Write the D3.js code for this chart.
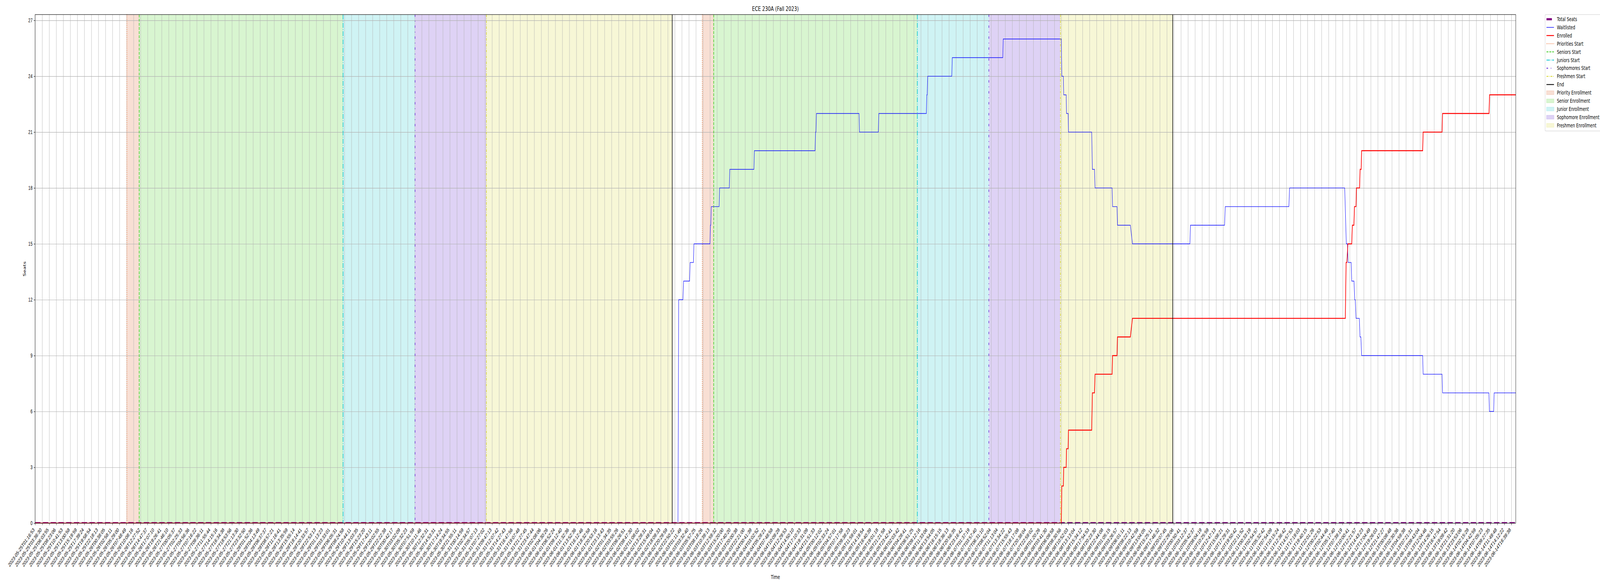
<!DOCTYPE html>
<html>
<head>
<meta charset="utf-8">
<script src="https://cdn.jsdelivr.net/npm/d3@7"></script>
<style>
    html, body {margin: 0; padding: 0; background: #fff; overflow: hidden;}
    svg {display: block; width: 100vw; height: 100vh; font-family: "DejaVu Sans", sans-serif;}
</style>
</head>
<body>
<div id="chart"></div>
<script>
// x positions are in tick units: tick i sits on tickLabels[i]
var tickLabels = [
    "2023-05-25T01:16:53", "2023-05-25T03:36:30", "2023-05-25T06:03:55", "2023-05-25T08:23:06", "2023-05-25T10:41:53",
    "2023-05-25T13:00:58", "2023-05-25T15:19:59", "2023-05-25T17:39:24", "2023-05-25T19:58:54", "2023-05-25T22:18:13",
    "2023-05-26T00:38:05", "2023-05-26T02:58:11", "2023-05-26T05:29:00", "2023-05-26T07:48:49", "2023-05-26T10:08:16",
    "2023-05-26T12:27:52", "2023-05-26T14:47:37", "2023-05-26T17:07:10", "2023-05-26T19:26:41", "2023-05-26T21:46:10",
    "2023-05-27T00:05:37", "2023-05-27T02:25:33", "2023-05-27T04:56:36", "2023-05-27T07:16:22", "2023-05-27T09:36:11",
    "2023-05-27T11:55:44", "2023-05-27T14:15:16", "2023-05-27T16:34:38", "2023-05-27T18:53:56", "2023-05-27T21:13:30",
    "2023-05-27T23:32:50", "2023-05-28T01:52:36", "2023-05-28T04:13:49", "2023-05-28T06:37:37", "2023-05-28T08:57:21",
    "2023-05-28T11:16:41", "2023-05-28T13:35:59", "2023-05-28T15:55:14", "2023-05-28T18:14:41", "2023-05-28T20:33:57",
    "2023-05-28T22:53:13", "2023-05-29T01:13:23", "2023-05-29T03:33:01", "2023-05-29T06:05:31", "2023-05-29T08:24:58",
    "2023-05-29T10:44:11", "2023-05-29T13:03:35", "2023-05-29T15:23:20", "2023-05-29T17:43:11", "2023-05-29T20:02:55",
    "2023-05-29T22:22:38", "2023-05-30T00:42:17", "2023-05-30T03:02:09", "2023-05-30T05:32:23", "2023-05-30T07:51:59",
    "2023-05-30T10:11:46", "2023-05-30T12:32:31", "2023-05-30T14:53:31", "2023-05-30T17:14:24", "2023-05-30T19:34:55",
    "2023-05-30T21:55:11", "2023-05-31T00:14:59", "2023-05-31T02:34:57", "2023-05-31T05:07:13", "2023-05-31T07:27:02",
    "2023-05-31T09:47:13", "2023-05-31T12:07:42", "2023-05-31T14:27:43", "2023-05-31T16:47:56", "2023-05-31T19:07:48",
    "2023-05-31T21:27:45", "2023-05-31T23:47:44", "2023-06-01T02:08:06", "2023-06-01T04:30:26", "2023-06-01T06:52:24",
    "2023-06-01T09:12:40", "2023-06-01T11:32:36", "2023-06-01T13:52:36", "2023-06-01T16:12:46", "2023-06-01T18:32:58",
    "2023-06-01T20:53:16", "2023-06-01T23:13:43", "2023-06-02T01:34:35", "2023-06-02T03:55:26", "2023-06-02T06:26:51",
    "2023-06-02T08:47:30", "2023-06-02T11:08:02", "2023-06-02T13:28:31", "2023-06-02T15:49:04", "2023-06-02T18:09:33",
    "2023-06-02T20:29:59", "2023-06-02T22:50:22", "2023-06-03T01:11:49", "2023-06-03T03:32:40", "2023-06-03T05:57:25",
    "2023-06-03T08:18:26", "2023-06-03T10:39:13", "2023-06-03T12:59:32", "2023-06-03T15:20:00", "2023-06-03T17:40:20",
    "2023-06-03T20:00:38", "2023-06-03T22:21:00", "2023-06-04T00:41:39", "2023-06-04T03:02:52", "2023-06-04T05:28:21",
    "2023-06-04T07:48:58", "2023-06-04T10:09:28", "2023-06-04T12:29:53", "2023-06-04T14:50:10", "2023-06-04T17:10:33",
    "2023-06-04T19:31:09", "2023-06-04T21:51:33", "2023-06-05T00:12:02", "2023-06-05T02:33:24", "2023-06-05T04:57:01",
    "2023-06-05T07:17:58", "2023-06-05T09:38:23", "2023-06-05T11:59:01", "2023-06-05T14:19:54", "2023-06-05T16:40:39",
    "2023-06-05T19:01:18", "2023-06-05T21:21:58", "2023-06-05T23:42:41", "2023-06-06T02:03:42", "2023-06-06T04:28:41",
    "2023-06-06T06:51:25", "2023-06-06T09:12:16", "2023-06-06T11:33:06", "2023-06-06T13:54:05", "2023-06-06T16:15:15",
    "2023-06-06T18:36:13", "2023-06-06T20:56:35", "2023-06-06T23:16:42", "2023-06-07T01:37:19", "2023-06-07T03:57:40",
    "2023-06-07T06:31:10", "2023-06-07T08:52:04", "2023-06-07T11:13:04", "2023-06-07T13:34:22", "2023-06-07T15:55:43",
    "2023-06-07T18:17:08", "2023-06-07T20:38:04", "2023-06-07T22:59:02", "2023-06-08T01:20:26", "2023-06-08T03:41:30",
    "2023-06-08T06:09:58", "2023-06-08T08:30:56", "2023-06-08T10:52:03", "2023-06-08T13:13:04", "2023-06-08T15:34:12",
    "2023-06-08T17:54:53", "2023-06-08T20:23:30", "2023-06-08T22:44:08", "2023-06-09T01:05:15", "2023-06-09T03:26:57",
    "2023-06-09T06:01:11", "2023-06-09T08:22:13", "2023-06-09T10:42:59", "2023-06-09T13:04:05", "2023-06-09T15:25:11",
    "2023-06-09T17:46:32", "2023-06-09T20:07:45", "2023-06-09T22:29:06", "2023-06-10T00:50:41", "2023-06-10T03:12:37",
    "2023-06-10T05:42:37", "2023-06-10T08:04:19", "2023-06-10T10:25:59", "2023-06-10T12:47:13", "2023-06-10T15:08:21",
    "2023-06-10T17:29:31", "2023-06-10T19:50:42", "2023-06-10T22:11:52", "2023-06-11T00:33:19", "2023-06-11T02:54:57",
    "2023-06-11T05:32:42", "2023-06-11T07:54:09", "2023-06-11T10:15:24", "2023-06-11T12:36:42", "2023-06-11T14:57:53",
    "2023-06-11T17:19:03", "2023-06-11T19:40:15", "2023-06-11T22:01:26", "2023-06-12T00:22:53", "2023-06-12T02:44:46",
    "2023-06-12T05:17:40", "2023-06-12T07:39:19", "2023-06-12T10:00:41", "2023-06-12T12:21:57", "2023-06-12T14:43:23",
    "2023-06-12T17:04:49", "2023-06-12T19:26:03", "2023-06-12T21:47:27", "2023-06-13T00:08:48", "2023-06-13T02:30:36",
    "2023-06-13T04:59:38", "2023-06-13T07:21:31", "2023-06-13T09:43:04", "2023-06-13T12:04:46", "2023-06-13T14:26:15",
    "2023-06-13T16:47:54", "2023-06-13T19:09:42", "2023-06-13T21:31:20", "2023-06-13T23:53:06", "2023-06-14T02:15:28",
    "2023-06-14T04:42:59", "2023-06-14T07:05:23", "2023-06-14T09:27:35", "2023-06-14T11:49:48", "2023-06-14T14:12:22",
    "2023-06-14T16:39:38"
];

var seatTicks = [0, 3, 6, 9, 12, 15, 18, 21, 24, 27];

// [position, seats]
var totalSeats = [[0, 0], [210.62, 0]];

var waitlisted = [
    [0, 0], [91.45, 0], [91.55, 12], [92.15, 12], [92.25, 13], [93.1, 13], [93.18, 14], [93.65, 14],
    [93.72, 15], [96.0, 15], [96.07, 16], [96.12, 16], [96.19, 17], [97.3, 17], [97.37, 18], [98.75, 18],
    [98.82, 19], [102.25, 19], [102.32, 20], [110.95, 20], [111.02, 21], [111.08, 21], [111.15, 22], [117.2, 22],
    [117.27, 21], [119.95, 21], [120.02, 22], [126.78, 22], [126.85, 23], [126.9, 23], [126.97, 24], [130.4, 24],
    [130.47, 25], [137.65, 25], [137.72, 26], [145.98, 26], [146.05, 24], [146.27, 24], [146.32, 23], [146.67, 23],
    [146.72, 22], [146.95, 22], [147.0, 21], [150.3, 21], [150.4, 19], [150.7, 19], [150.78, 18], [153.2, 18],
    [153.27, 17], [153.9, 17], [153.97, 16], [155.8, 16], [156.1, 15], [164.27, 15], [164.35, 16], [169.2, 16],
    [169.3, 17], [178.35, 17], [178.45, 18], [186.29, 18], [186.52, 15], [186.68, 15], [186.78, 14], [187.21, 14],
    [187.29, 13], [187.61, 13], [187.72, 12], [187.79, 12], [187.9, 11], [188.37, 11], [188.47, 10], [188.59, 10],
    [188.7, 9], [197.38, 9], [197.45, 8], [200.14, 8], [200.21, 7], [206.8, 7], [206.88, 6], [207.48, 6],
    [207.55, 7], [210.62, 7]
];

var enrolled = [
    [0, 0], [145.98, 0], [146.05, 2], [146.27, 2], [146.32, 3], [146.67, 3], [146.72, 4], [146.95, 4],
    [147.0, 5], [150.3, 5], [150.4, 7], [150.7, 7], [150.78, 8], [153.2, 8], [153.27, 9], [153.9, 9],
    [153.97, 10], [155.8, 10], [156.1, 11], [186.38, 11], [186.49, 14], [186.6, 14], [186.75, 15], [187.29, 15],
    [187.38, 16], [187.6, 16], [187.68, 17], [187.9, 17], [187.96, 18], [188.41, 18], [188.48, 19], [188.63, 19],
    [188.7, 20], [197.38, 20], [197.45, 21], [200.14, 21], [200.21, 22], [206.82, 22], [206.9, 23], [210.62, 23]
];

// phase boundaries, one entry per enrollment pass
var prioritiesStart = [13.05, 94.9];
var seniorsStart = [14.81, 96.53];
var juniorsStart = [43.81, 125.5];
var sophomoresStart = [54.05, 135.67];
var freshmenStart = [64.2, 145.85];
var endTimes = [90.63, 161.83];

(() => {
    var W = 6000, H = 1500;
    var plotL = 131.6, plotR = 5684, plotT = 37.3, plotB = 1339.3;
    var fs = 13.9;

    var xMax = d3.max(enrolled, d => d[0]);
    var x = d3.scaleLinear().domain([0, xMax]).range([plotL, plotR]);
    var y = d3.scaleLinear().domain([0, 27.31]).range([plotB, plotT]);

    // the browser caps the window width, so the 6000x1500 layout is stretched onto whatever viewport we get
    var svg = d3.select("#chart").append("svg")
        .attr("viewBox", `0 0 ${W} ${H}`)
        .attr("preserveAspectRatio", "none");

    svg.append("defs").append("clipPath").attr("id", "plotClip")
        .append("rect")
        .attr("x", plotL).attr("y", plotT)
        .attr("width", plotR - plotL).attr("height", plotB - plotT);

    var plot = svg.append("g").attr("clip-path", "url(#plotClip)");

    // enrollment windows
    var phases = [
        {name: "Priority Enrollment", from: prioritiesStart, to: seniorsStart, fill: "#f8dfd4", edge: "#f2c9b6"},
        {name: "Senior Enrollment", from: seniorsStart, to: juniorsStart, fill: "#d8f5d0", edge: "#c2ecb6"},
        {name: "Junior Enrollment", from: juniorsStart, to: sophomoresStart, fill: "#cff3f4", edge: "#b3ebee"},
        {name: "Sophomore Enrollment", from: sophomoresStart, to: freshmenStart, fill: "#ded2f5", edge: "#cbb9ef"},
        {name: "Freshmen Enrollment", from: freshmenStart, to: endTimes, fill: "#f7f7d6", edge: "#efefb8"}
    ];

    phases.forEach(p => {
        p.from.forEach((s, i) => {
            plot.append("rect")
                .attr("x", x(s))
                .attr("y", plotT)
                .attr("width", x(p.to[i]) - x(s))
                .attr("height", plotB - plotT)
                .attr("fill", p.fill);
        });
    });

    // grid
    var gridColor = "#b0b0b0";
    plot.append("g")
        .attr("transform", `translate(0,${plotB})`)
        .call(d3.axisBottom(x).tickValues(d3.range(tickLabels.length)).tickSize(-(plotB - plotT)).tickFormat(""))
        .call(g => g.select(".domain").remove())
        .call(g => g.selectAll("line").attr("stroke", gridColor).attr("stroke-width", 1.1));
    plot.append("g")
        .attr("transform", `translate(${plotL},0)`)
        .call(d3.axisLeft(y).tickValues(seatTicks).tickSize(-(plotR - plotL)).tickFormat(""))
        .call(g => g.select(".domain").remove())
        .call(g => g.selectAll("line").attr("stroke", gridColor).attr("stroke-width", 1.1));

    // start / end markers
    var markers = [
        {name: "Priorities Start", at: prioritiesStart, color: "#ee7a40", dash: "2,3.3"},
        {name: "Seniors Start", at: seniorsStart, color: "#3fcc22", dash: "7.4,3.2"},
        {name: "Juniors Start", at: juniorsStart, color: "#00c3cf", dash: "12.8,3.2,2,3.2"},
        {name: "Sophomores Start", at: sophomoresStart, color: "#6b2fd8", dash: "6,10,2,10"},
        {name: "Freshmen Start", at: freshmenStart, color: "#d6d626", dash: "7,3,2,3"},
        {name: "End", at: endTimes, color: "#000000", dash: null}
    ];

    var line = d3.line().x(d => x(d[0])).y(d => y(d[1]));

    plot.append("path").datum(totalSeats)
        .attr("d", line)
        .attr("fill", "none")
        .attr("stroke", "#800080")
        .attr("stroke-width", 5.5)
        .attr("stroke-dasharray", "20.3,8.8");

    plot.append("path").datum(waitlisted)
        .attr("d", line)
        .attr("fill", "none")
        .attr("stroke", "#0000ff")
        .attr("stroke-width", 1.4);

    plot.append("path").datum(enrolled)
        .attr("d", line)
        .attr("fill", "none")
        .attr("stroke", "#ff0000")
        .attr("stroke-width", 2.4);

    markers.forEach(m => {
        m.at.forEach(v => {
            plot.append("line")
                .attr("x1", x(v)).attr("x2", x(v))
                .attr("y1", plotT).attr("y2", plotB)
                .attr("stroke", m.color)
                .attr("stroke-width", 2.1)
                .attr("stroke-dasharray", m.dash);
        });
    });

    // spines
    svg.append("rect")
        .attr("x", plotL).attr("y", plotT)
        .attr("width", plotR - plotL).attr("height", plotB - plotT)
        .attr("fill", "none")
        .attr("stroke", "#000")
        .attr("stroke-width", 1.1);

    // x axis
    var xAxis = svg.append("g")
        .attr("transform", `translate(0,${plotB})`)
        .call(d3.axisBottom(x)
            .tickValues(d3.range(tickLabels.length))
            .tickSize(4.9)
            .tickPadding(0)
            .tickFormat(i => tickLabels[i]));
    xAxis.select(".domain").remove();
    xAxis.selectAll("line").attr("stroke", "#000").attr("stroke-width", 1.1);
    xAxis.selectAll("text")
        .attr("font-size", fs)
        .attr("fill", "#000")
        .attr("text-anchor", "end")
        .attr("y", 0)
        .attr("dy", "0.35em")
        .attr("transform", "translate(-4.9,14.6) rotate(-45)");

    // y axis
    var yAxis = svg.append("g")
        .attr("transform", `translate(${plotL},0)`)
        .call(d3.axisLeft(y).tickValues(seatTicks).tickSize(4.9).tickPadding(4.9));
    yAxis.select(".domain").remove();
    yAxis.selectAll("line").attr("stroke", "#000").attr("stroke-width", 1.1);
    yAxis.selectAll("text").attr("font-size", fs).attr("fill", "#000");

    // titles
    svg.append("text")
        .attr("x", (plotL + plotR) / 2).attr("y", 28.5)
        .attr("text-anchor", "middle")
        .attr("font-size", 16.7)
        .text("ECE 230A (Fall 2023)");

    svg.append("text")
        .attr("x", (plotL + plotR) / 2).attr("y", 1482)
        .attr("text-anchor", "middle")
        .attr("font-size", fs)
        .text("Time");

    svg.append("text")
        .attr("transform", `translate(97,${(plotT + plotB) / 2}) rotate(-90)`)
        .attr("text-anchor", "middle")
        .attr("font-size", fs)
        .text("Seats");

    // legend, its right edge runs past the figure like the original
    var legend = svg.append("g").attr("transform", "translate(5794,37.3)");
    legend.append("rect")
        .attr("x", 0).attr("y", 0)
        .attr("width", 214).attr("height", 298)
        .attr("rx", 3)
        .attr("fill", "#fff").attr("fill-opacity", 0.8)
        .attr("stroke", "#cccccc").attr("stroke-width", 1.1);

    var legendItems = [
        {name: "Total Seats", kind: "line", color: "#800080", width: 5.5, dash: "20.3,8.8"},
        {name: "Waitlisted", kind: "line", color: "#0000ff", width: 1.4, dash: null},
        {name: "Enrolled", kind: "line", color: "#ff0000", width: 2.4, dash: null}
    ];
    markers.forEach(m => legendItems.push({name: m.name, kind: "line", color: m.color, width: 2.1, dash: m.dash}));
    phases.forEach(p => legendItems.push({name: p.name, kind: "patch", color: p.fill, edge: p.edge}));

    legendItems.forEach((it, i) => {
        let cy = 11.9 + i * 20.9;
        let row = legend.append("g").attr("transform", `translate(0,${cy})`);
        if (it.kind === "line") {
            row.append("line")
                .attr("x1", 5.3).attr("x2", 33.4)
                .attr("y1", 0).attr("y2", 0)
                .attr("stroke", it.color)
                .attr("stroke-width", it.width)
                .attr("stroke-dasharray", it.dash);
        }
        else {
            row.append("rect")
                .attr("x", 5.3).attr("y", -4.8)
                .attr("width", 28).attr("height", 9.6)
                .attr("fill", it.color)
                .attr("stroke", it.edge).attr("stroke-width", 1);
        }
        row.append("text")
            .attr("x", 44.5).attr("y", 0)
            .attr("dy", "0.35em")
            .attr("font-size", fs)
            .attr("fill", "#000")
            .text(it.name);
    });
})();
</script>
</body>
</html>
